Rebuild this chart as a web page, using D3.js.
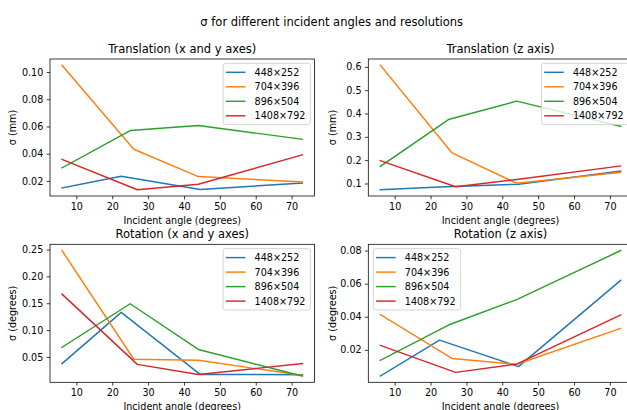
<!DOCTYPE html>
<html>
<head>
<meta charset="utf-8">
<script src="https://cdn.jsdelivr.net/npm/d3@7"></script>
<style>
  body { margin: 0; background: #fff; }
  svg { display: block; font-family: "DejaVu Sans", sans-serif; }
</style>
</head>
<body>
<div id="chart"></div>
<script>
// resolutions and the incident angles measured for each of them
const resolutions = ['448×252', '704×396', '896×504', '1408×792'];
const angles448 = [6, 22.5, 44.5, 73];
const angles704 = [6, 26, 44, 73];
const angles896 = [6, 25, 44, 73];
const angles1408 = [6, 27, 44, 73];

// translation x/y (mm)
const transXY448 = [0.0149, 0.0234, 0.0137, 0.0185];
const transXY704 = [0.105, 0.0433, 0.0232, 0.0192];
const transXY896 = [0.0296, 0.057, 0.0607, 0.0506];
const transXY1408 = [0.0358, 0.0135, 0.0176, 0.0392];

// translation z (mm)
const transZ448 = [0.073, 0.085, 0.097, 0.153];
const transZ704 = [0.607, 0.231, 0.101, 0.148];
const transZ896 = [0.173, 0.374, 0.453, 0.345];
const transZ1408 = [0.198, 0.086, 0.117, 0.175];

// rotation x/y (degrees)
const rotXY448 = [0.0376, 0.133, 0.0175, 0.017];
const rotXY704 = [0.248, 0.0457, 0.044, 0.0156];
const rotXY896 = [0.068, 0.149, 0.064, 0.0145];
const rotXY1408 = [0.167, 0.0362, 0.0175, 0.0376];

// rotation z (degrees)
const rotZ448 = [0.0042, 0.0259, 0.0099, 0.062];
const rotZ704 = [0.0413, 0.0148, 0.0113, 0.033];
const rotZ896 = [0.0137, 0.035, 0.0504, 0.080];
const rotZ1408 = [0.0227, 0.0064, 0.0114, 0.0411];

const xTicks = [10, 20, 30, 40, 50, 60, 70];
const colors = ['#1f77b4', '#ff7f0e', '#2ca02c', '#d62728'];
const anglesBySeries = [angles448, angles704, angles896, angles1408];

const panels = [
    { title: 'Translation (x and y axes)', ylabel: 'σ (mm)', series: [transXY448, transXY704, transXY896, transXY1408],
      yTicks: [0.02, 0.04, 0.06, 0.08, 0.10], fmt: '.2f', legend: 'right', col: 0, row: 0 },
    { title: 'Translation (z axis)', ylabel: 'σ (mm)', series: [transZ448, transZ704, transZ896, transZ1408],
      yTicks: [0.1, 0.2, 0.3, 0.4, 0.5, 0.6], fmt: '.1f', legend: 'right', col: 1, row: 0 },
    { title: 'Rotation (x and y axes)', ylabel: 'σ (degrees)', series: [rotXY448, rotXY704, rotXY896, rotXY1408],
      yTicks: [0.05, 0.10, 0.15, 0.20, 0.25], fmt: '.2f', legend: 'right', col: 0, row: 1 },
    { title: 'Rotation (z axis)', ylabel: 'σ (degrees)', series: [rotZ448, rotZ704, rotZ896, rotZ1408],
      yTicks: [0.02, 0.04, 0.06, 0.08], fmt: '.2f', legend: 'left', col: 1, row: 1 }
];

const width = 627, height = 410;
const colX = [50, 368.3];
const rowY = [59, 244.3];
const axW = 264.4;
const axH = [137, 138];
const fs = 9.6;

const svg = d3.select('#chart').append('svg')
    .attr('width', width)
    .attr('height', height);

svg.append('text')
    .attr('x', 331.7)
    .attr('y', 25.5)
    .attr('text-anchor', 'middle')
    .style('font-size', '11.5px')
    .text('σ for different incident angles and resolutions');

// matplotlib style 5% margins
function padded(lo, hi) {
    const m = (hi - lo) * 0.05;
    return [lo - m, hi + m];
}

panels.forEach((p, pi) => {
    const x0 = colX[p.col], y0 = rowY[p.row], h = axH[p.row];
    const g = svg.append('g').attr('transform', `translate(${x0},${y0})`);

    const allX = anglesBySeries.flat();
    const allY = p.series.flat();
    const x = d3.scaleLinear().domain(padded(d3.min(allX), d3.max(allX))).range([0, axW]);
    const y = d3.scaleLinear().domain(padded(d3.min(allY), d3.max(allY))).range([h, 0]);

    g.append('clipPath').attr('id', 'clip' + pi)
        .append('rect').attr('width', axW).attr('height', h);

    const line = d3.line().x(d => x(d[0])).y(d => y(d[1]));
    const lines = g.append('g').attr('clip-path', `url(#clip${pi})`);
    p.series.forEach((vals, si) => {
        lines.append('path')
            .datum(vals.map((v, i) => [anglesBySeries[si][i], v]))
            .attr('d', line)
            .attr('fill', 'none')
            .attr('stroke', colors[si])
            .attr('stroke-width', 1.45)
            .attr('stroke-linejoin', 'round')
            .attr('stroke-linecap', 'square');
    });

    const xAxis = g.append('g')
        .attr('transform', `translate(0,${h})`)
        .call(d3.axisBottom(x).tickValues(xTicks).tickSize(3.35).tickPadding(3.35));
    const yAxis = g.append('g')
        .call(d3.axisLeft(y).tickValues(p.yTicks).tickFormat(d3.format(p.fmt)).tickSize(3.35).tickPadding(3.35));
    [xAxis, yAxis].forEach(a => {
        a.select('.domain').remove();
        a.selectAll('line').attr('stroke', '#000').attr('stroke-width', 0.77);
        a.selectAll('text').attr('fill', '#000').style('font-size', fs + 'px').style('font-family', '"DejaVu Sans", sans-serif');
    });

    g.append('rect')
        .attr('width', axW)
        .attr('height', h)
        .attr('fill', 'none')
        .attr('stroke', '#000')
        .attr('stroke-width', 0.77);

    g.append('text')
        .attr('x', axW / 2)
        .attr('y', -6.5)
        .attr('text-anchor', 'middle')
        .style('font-size', '11.5px')
        .text(p.title);

    g.append('text')
        .attr('x', axW / 2)
        .attr('y', h + 27.5)
        .attr('text-anchor', 'middle')
        .style('font-size', fs + 'px')
        .text('Incident angle (degrees)');

    const labX = (p.col === 0 ? 16.3 : 336.2) - x0;
    g.append('text')
        .attr('transform', `translate(${labX},${h / 2}) rotate(-90)`)
        .attr('text-anchor', 'middle')
        .style('font-size', fs + 'px')
        .text(p.ylabel);

    // legend
    const lw = 87.3, lh = 61.4;
    const lx = p.legend === 'right' ? axW - 4 - lw : 5;
    const leg = g.append('g').attr('transform', `translate(${lx},4.3)`);
    leg.append('rect')
        .attr('width', lw)
        .attr('height', lh)
        .attr('rx', 2.5)
        .attr('fill', 'rgba(255,255,255,0.8)')
        .attr('stroke', '#d0d0d0')
        .attr('stroke-width', 0.9);
    resolutions.forEach((r, i) => {
        const cy = 9 + i * 14.5;
        leg.append('line')
            .attr('x1', 2.8).attr('x2', 22.4)
            .attr('y1', cy).attr('y2', cy)
            .attr('stroke', colors[i])
            .attr('stroke-width', 1.45);
        leg.append('text')
            .attr('x', 31.5)
            .attr('y', cy + 3.5)
            .style('font-size', fs + 'px')
            .text(r);
    });
});
</script>
</body>
</html>
